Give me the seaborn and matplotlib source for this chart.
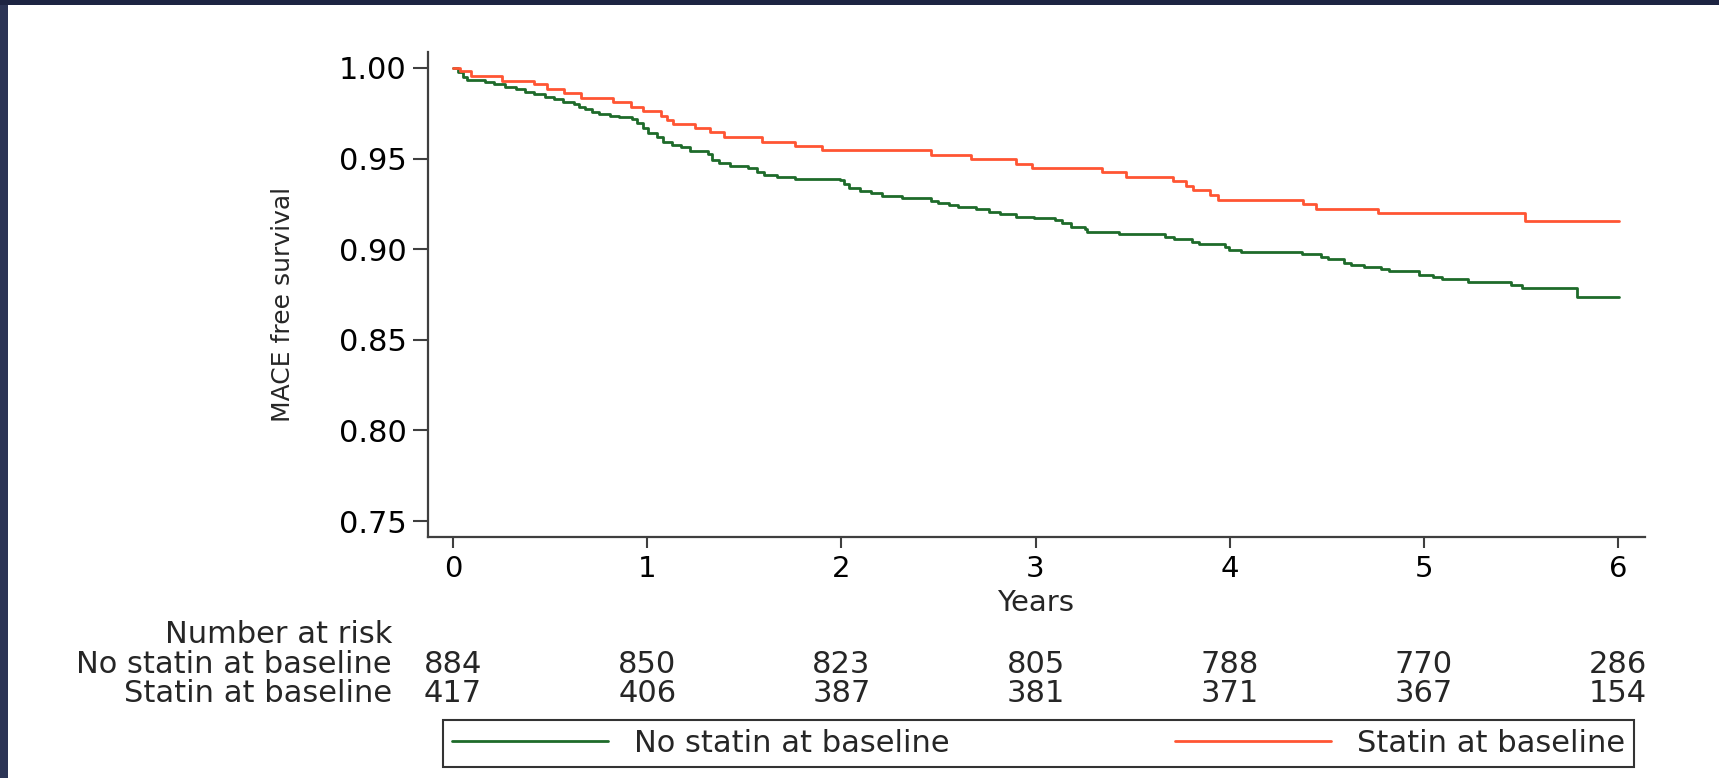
import pandas as pd
import seaborn as sns
import matplotlib.pyplot as plt
from matplotlib.lines import Line2D
from matplotlib.patches import Rectangle


GROUPS = ["No statin at baseline", "Statin at baseline"]
COLORS = ["#1e6b2a", "#ff5533"]

# Kaplan-Meier steps (years, MACE free survival)
NO_STATIN_YEARS = [0, 0.026, 0.049, 0.072, 0.164, 0.210, 0.267, 0.325, 0.371,
                   0.417, 0.474, 0.520, 0.566, 0.624, 0.647, 0.681, 0.716,
                   0.750, 0.808, 0.854, 0.922, 0.945, 0.980, 1.003, 1.049,
                   1.083, 1.129, 1.175, 1.221, 1.313, 1.336, 1.371, 1.428,
                   1.520, 1.566, 1.600, 1.669, 1.762, 1.991, 2.014, 2.038,
                   2.095, 2.152, 2.210, 2.313, 2.463, 2.497, 2.555, 2.600,
                   2.693, 2.762, 2.819, 2.899, 2.994, 3.100, 3.135, 3.183,
                   3.253, 3.265, 3.430, 3.667, 3.714, 3.808, 3.843, 3.974,
                   3.997, 4.056, 4.370, 4.470, 4.505, 4.588, 4.623, 4.694,
                   4.777, 4.823, 4.977, 5.048, 5.095, 5.225, 5.449, 5.508,
                   5.787, 6.004]
NO_STATIN_SURV = [1.0, 0.998, 0.9952, 0.9934, 0.9925, 0.9912, 0.9897, 0.9882,
                  0.9869, 0.9857, 0.9842, 0.9829, 0.9814, 0.9801, 0.9787,
                  0.9774, 0.9759, 0.9746, 0.9735, 0.9728, 0.9717, 0.9695,
                  0.9667, 0.9639, 0.9617, 0.9593, 0.9575, 0.9562, 0.9544,
                  0.9525, 0.9492, 0.9478, 0.9461, 0.9446, 0.9428, 0.9409,
                  0.9397, 0.9386, 0.9382, 0.9358, 0.9336, 0.9321, 0.9308,
                  0.9295, 0.9281, 0.9268, 0.9257, 0.9244, 0.9231, 0.9220,
                  0.9207, 0.9194, 0.9180, 0.9170, 0.9161, 0.9143, 0.9124,
                  0.9110, 0.9097, 0.9084, 0.9069, 0.9054, 0.9042, 0.9029,
                  0.9014, 0.8996, 0.8983, 0.8974, 0.8959, 0.8946, 0.8926,
                  0.8913, 0.8900, 0.8889, 0.8880, 0.8858, 0.8845, 0.8834,
                  0.8821, 0.8802, 0.8788, 0.8738, 0.8738]

STATIN_YEARS = [0, 0.038, 0.095, 0.251, 0.417, 0.486, 0.573, 0.658, 0.826,
                0.918, 0.980, 1.072, 1.102, 1.134, 1.244, 1.325, 1.394, 1.589,
                1.762, 1.900, 2.463, 2.669, 2.897, 2.982, 3.341, 3.466, 3.709,
                3.773, 3.813, 3.898, 3.938, 4.375, 4.446, 4.765, 5.520, 6.004]
STATIN_SURV = [1.0, 0.9985, 0.9958, 0.9930, 0.9912, 0.9884, 0.9860, 0.9833,
               0.9810, 0.9787, 0.9763, 0.9737, 0.9713, 0.9690, 0.9667, 0.9645,
               0.9618, 0.9593, 0.9570, 0.9547, 0.9520, 0.9496, 0.9470, 0.9448,
               0.9424, 0.9400, 0.9376, 0.9350, 0.9327, 0.9300, 0.9272, 0.9250,
               0.9222, 0.9198, 0.9157, 0.9157]

RISK_YEARS = [0, 1, 2, 3, 4, 5, 6]
NO_STATIN_RISK = [884, 850, 823, 805, 788, 770, 286]
STATIN_RISK = [417, 406, 387, 381, 371, 367, 154]
Y_TICKS = [0.75, 0.80, 0.85, 0.90, 0.95, 1.00]

FS = 22
INK = "#3f3f3f"


def main():
    sns.set_theme(style="ticks")
    plt.rcParams["font.family"] = ["DejaVu Sans"]

    df = pd.concat([
        pd.DataFrame({"years": NO_STATIN_YEARS, "survival": NO_STATIN_SURV,
                      "group": GROUPS[0]}),
        pd.DataFrame({"years": STATIN_YEARS, "survival": STATIN_SURV,
                      "group": GROUPS[1]}),
    ], ignore_index=True)

    fig = plt.figure(figsize=(17.19, 7.78), dpi=100)
    fig.patch.set_facecolor("white")
    ax = fig.add_axes([428 / 1719, 1 - 537 / 778, 1217 / 1719, 485 / 778])

    sns.lineplot(data=df, x="years", y="survival", hue="group",
                 hue_order=GROUPS, palette=COLORS, drawstyle="steps-post",
                 estimator=None, linewidth=2.0, legend=False, ax=ax)

    ax.set_xlim(-0.129, 6.139)
    ax.set_ylim(0.7412, 1.0088)
    ax.set_xticks(RISK_YEARS)
    ax.set_yticks(Y_TICKS)
    ax.yaxis.set_major_formatter("{x:.2f}")
    sns.despine(ax=ax)
    for side in ["left", "bottom"]:
        ax.spines[side].set_color(INK)
        ax.spines[side].set_linewidth(1.6)
    ax.tick_params(axis="x", length=8, width=1.5, pad=5, labelsize=21,
                   color=INK, labelcolor="black")
    ax.tick_params(axis="y", length=10.5, width=1.5, pad=5, labelsize=FS,
                   color=INK, labelcolor="black")

    ax.set_ylabel("MACE free survival", fontsize=18, va="center")
    ax.yaxis.set_label_coords(-0.119, 0.48)
    ax.set_xlabel("Years", fontsize=21, va="baseline")
    ax.xaxis.set_label_coords(0.4996, (537 - 611) / 485)

    # number at risk table
    ax.text(-0.0296, (537 - 643) / 485, "Number at risk", fontsize=FS,
            ha="right", va="baseline", transform=ax.transAxes)
    rows = [(GROUPS[0], NO_STATIN_RISK, 673), (GROUPS[1], STATIN_RISK, 702)]
    for name, counts, base in rows:
        yy = (537 - base) / 485
        ax.text(-0.0296, yy, name, fontsize=FS, ha="right", va="baseline",
                transform=ax.transAxes)
        for yr, n in zip(RISK_YEARS, counts):
            ax.text(yr, yy, str(n), fontsize=FS, ha="center", va="baseline",
                    transform=ax.get_xaxis_transform())

    handles = [Line2D([], [], color=c, linewidth=2.0) for c in COLORS]
    leg = ax.legend(handles, GROUPS, loc="center", ncol=2, mode="expand",
                    bbox_to_anchor=(443 / 1719, 1 - 769 / 778,
                                    1191 / 1719, 51 / 778),
                    bbox_transform=fig.transFigure, fontsize=FS,
                    handlelength=5.1, handletextpad=0.85, borderpad=0.3,
                    borderaxespad=0, fancybox=False, framealpha=1)
    leg.get_frame().set_edgecolor("#333333")
    leg.get_frame().set_linewidth(1.5)

    # slide frame around the picture
    fig.add_artist(Rectangle((0, 0), 8 / 1719, 1, transform=fig.transFigure,
                             facecolor="#2b3455", edgecolor="none"))
    fig.add_artist(Rectangle((0, 1 - 5 / 778), 1, 5 / 778,
                             transform=fig.transFigure,
                             facecolor="#1d2442", edgecolor="none"))

    fig.savefig("out.png", dpi=100)


if __name__ == "__main__":
    main()
